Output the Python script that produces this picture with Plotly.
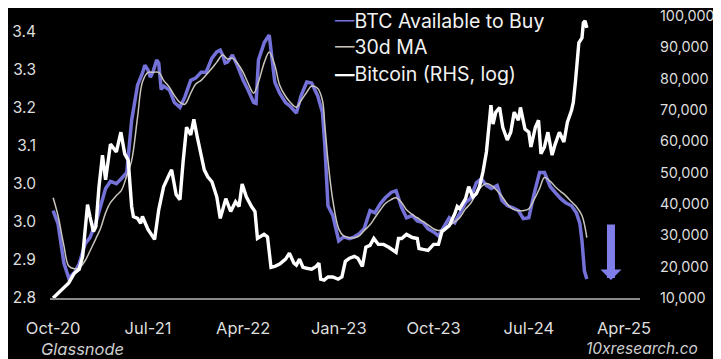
import plotly.graph_objects as go

# ---------------- data ----------------
avail_dates = [
    "2020-10-01", "2020-10-15", "2020-11-01", "2020-11-15", "2020-12-01", "2020-12-15",
    "2021-01-01", "2021-01-15", "2021-02-01", "2021-02-15", "2021-03-01", "2021-03-15",
    "2021-04-01", "2021-04-15", "2021-05-01", "2021-05-15", "2021-06-01", "2021-06-15",
    "2021-06-22", "2021-07-01", "2021-07-08", "2021-07-15", "2021-07-26", "2021-08-01",
    "2021-08-08", "2021-08-15", "2021-09-01",
    "2021-09-15", "2021-10-01", "2021-10-15", "2021-11-01", "2021-11-15", "2021-12-01",
    "2021-12-15", "2022-01-01", "2022-01-15", "2022-01-25", "2022-02-01", "2022-02-08",
    "2022-02-15", "2022-03-01",
    "2022-03-15", "2022-04-01", "2022-04-15", "2022-05-01", "2022-05-08", "2022-05-15",
    "2022-06-01", "2022-06-15", "2022-07-01", "2022-07-15", "2022-08-01", "2022-08-15",
    "2022-09-01",
    "2022-09-15", "2022-10-01", "2022-10-15", "2022-11-01", "2022-11-15", "2022-11-22",
    "2022-12-01", "2022-12-15", "2023-01-01", "2023-01-15", "2023-02-01", "2023-02-15",
    "2023-03-01", "2023-03-15", "2023-04-01", "2023-04-15", "2023-05-01", "2023-05-15",
    "2023-06-01", "2023-06-15", "2023-07-01", "2023-07-15", "2023-08-01", "2023-08-15",
    "2023-09-01", "2023-09-15", "2023-10-01", "2023-10-15", "2023-11-01", "2023-11-15",
    "2023-12-01", "2023-12-15", "2024-01-01", "2024-01-15", "2024-02-01", "2024-02-15",
    "2024-03-01", "2024-03-15", "2024-04-01", "2024-04-15", "2024-05-01", "2024-05-15",
    "2024-06-01", "2024-06-15", "2024-07-01", "2024-07-15", "2024-08-01", "2024-08-15",
    "2024-09-01", "2024-09-15", "2024-10-01", "2024-10-15", "2024-11-01", "2024-11-15",
    "2024-11-25", "2024-12-01", "2024-12-08", "2024-12-15",
]
avail_values = [
    2.997, 2.968, 2.879, 2.845, 2.857, 2.877,
    2.922, 2.936, 2.970, 3.008, 3.047, 3.063,
    3.058, 3.069, 3.083, 3.201, 3.280, 3.307,
    3.325, 3.314, 3.298, 3.309, 3.337, 3.330,
    3.270, 3.278, 3.269,
    3.241, 3.230, 3.253, 3.291, 3.296, 3.309,
    3.309, 3.341, 3.355, 3.359, 3.348, 3.330,
    3.332, 3.348,
    3.325, 3.291, 3.269, 3.241, 3.239, 3.337,
    3.377, 3.393, 3.287, 3.262, 3.241, 3.232,
    3.217,
    3.257, 3.287, 3.285, 3.257, 3.219, 3.144,
    3.008, 2.986, 2.929, 2.938, 2.934, 2.938,
    2.945, 2.956, 2.997, 2.992, 3.013, 3.026,
    3.038, 3.042, 3.004, 2.981, 2.986, 2.974,
    2.970, 2.956, 2.949, 2.940, 2.963, 2.981,
    2.970, 2.992, 3.015, 3.024, 3.060, 3.069,
    3.054, 3.047, 3.054, 3.020, 3.008, 3.004,
    2.997, 2.979, 2.981, 3.031, 3.083, 3.083,
    3.051, 3.038, 3.024, 3.015, 3.008, 2.992,
    2.968, 2.929, 2.861, 2.843,
]

ma_dates = [
    "2020-10-01", "2020-10-15", "2020-11-01", "2020-11-15", "2020-12-01", "2020-12-15",
    "2021-01-01", "2021-01-15", "2021-02-01", "2021-02-15", "2021-03-01", "2021-03-15",
    "2021-04-01", "2021-04-15", "2021-05-01", "2021-05-15", "2021-06-01", "2021-06-15",
    "2021-07-01", "2021-07-15", "2021-08-01", "2021-08-15", "2021-09-01", "2021-09-15",
    "2021-10-01", "2021-10-15", "2021-11-01", "2021-11-15", "2021-12-01", "2021-12-15",
    "2022-01-01", "2022-01-15", "2022-02-01", "2022-02-15", "2022-03-01", "2022-03-15",
    "2022-04-01", "2022-04-15", "2022-05-01", "2022-05-15", "2022-06-01", "2022-06-15",
    "2022-07-01", "2022-07-15", "2022-08-01", "2022-08-15", "2022-09-01", "2022-09-15",
    "2022-10-01", "2022-10-15", "2022-11-01", "2022-11-15", "2022-11-22", "2022-12-01",
    "2022-12-15", "2023-01-01", "2023-01-15", "2023-02-01", "2023-02-15", "2023-03-01",
    "2023-03-15", "2023-04-01", "2023-04-15", "2023-05-01", "2023-05-15", "2023-06-01",
    "2023-06-15", "2023-07-01", "2023-07-15", "2023-08-01", "2023-08-15", "2023-09-01",
    "2023-09-15", "2023-10-01", "2023-10-15", "2023-11-01", "2023-11-15", "2023-12-01",
    "2023-12-15", "2024-01-01", "2024-01-15", "2024-02-01", "2024-02-15", "2024-03-01",
    "2024-03-15", "2024-04-01", "2024-04-15", "2024-05-01", "2024-05-15", "2024-06-01",
    "2024-06-15", "2024-07-01", "2024-07-15", "2024-08-01", "2024-08-15", "2024-09-01",
    "2024-09-15", "2024-10-01", "2024-10-15", "2024-11-01", "2024-11-15", "2024-12-01",
    "2024-12-15",
]
ma_values = [
    3.026, 2.986, 2.918, 2.872, 2.866, 2.868,
    2.884, 2.906, 2.934, 2.958, 2.992, 3.015,
    3.031, 3.042, 3.076, 3.110, 3.208, 3.287,
    3.309, 3.309, 3.309, 3.291, 3.275, 3.257,
    3.241, 3.237, 3.262, 3.282, 3.291, 3.303,
    3.318, 3.332, 3.348, 3.339, 3.341, 3.330,
    3.309, 3.285, 3.262, 3.287, 3.332, 3.355,
    3.325, 3.280, 3.255, 3.241, 3.230, 3.246,
    3.264, 3.278, 3.273, 3.246, 3.189, 3.110,
    3.020, 2.956, 2.940, 2.936, 2.936, 2.940,
    2.952, 2.965, 2.981, 2.999, 3.013, 3.022,
    3.026, 3.015, 2.999, 2.988, 2.981, 2.972,
    2.965, 2.956, 2.952, 2.956, 2.963, 2.972,
    2.981, 3.001, 3.013, 3.035, 3.051, 3.058,
    3.054, 3.042, 3.029, 3.011, 3.001, 2.997,
    2.997, 3.001, 3.020, 3.047, 3.072, 3.063,
    3.051, 3.040, 3.031, 3.017, 3.006, 2.986,
    2.936,
]

btc_dates = [
    "2020-10-01", "2020-10-15", "2020-11-01", "2020-11-15", "2020-12-01", "2020-12-15",
    "2020-12-25", "2021-01-01", "2021-01-08", "2021-01-15", "2021-01-25", "2021-02-01",
    "2021-02-10", "2021-02-20", "2021-03-01", "2021-03-15", "2021-04-01", "2021-04-14",
    "2021-04-25", "2021-05-05", "2021-05-15", "2021-05-20", "2021-06-01", "2021-06-10",
    "2021-06-15", "2021-07-01", "2021-07-15", "2021-07-20", "2021-08-01", "2021-08-15",
    "2021-09-01", "2021-09-07", "2021-09-20", "2021-10-01", "2021-10-10", "2021-10-20",
    "2021-11-01", "2021-11-10", "2021-11-20", "2021-12-01", "2021-12-10", "2021-12-20",
    "2022-01-01", "2022-01-15", "2022-01-25", "2022-02-10", "2022-02-24", "2022-03-10",
    "2022-03-20", "2022-03-29", "2022-04-10", "2022-04-25", "2022-05-05", "2022-05-12",
    "2022-05-31", "2022-06-10", "2022-06-20", "2022-07-01", "2022-07-15", "2022-08-01",
    "2022-08-12", "2022-08-25", "2022-09-01", "2022-09-10", "2022-09-20", "2022-10-01",
    "2022-10-15", "2022-10-28", "2022-11-05", "2022-11-10", "2022-11-20", "2022-12-01",
    "2022-12-15", "2022-12-30", "2023-01-10", "2023-01-20", "2023-02-01", "2023-02-15",
    "2023-02-25", "2023-03-10", "2023-03-20", "2023-04-01", "2023-04-12", "2023-04-25",
    "2023-05-10", "2023-05-25", "2023-06-15", "2023-06-22", "2023-07-01", "2023-07-15",
    "2023-08-01", "2023-08-15", "2023-08-20", "2023-09-01", "2023-09-15", "2023-10-01",
    "2023-10-15", "2023-10-25", "2023-11-01", "2023-11-15", "2023-12-01", "2023-12-08",
    "2023-12-15", "2024-01-01", "2024-01-10", "2024-01-22", "2024-02-01", "2024-02-10",
    "2024-02-20", "2024-03-01", "2024-03-08", "2024-03-14", "2024-03-20", "2024-03-28",
    "2024-04-08", "2024-04-17", "2024-04-30", "2024-05-10", "2024-05-20", "2024-06-01",
    "2024-06-07", "2024-06-20", "2024-07-01", "2024-07-07", "2024-07-20", "2024-07-29",
    "2024-08-05", "2024-08-15", "2024-08-25", "2024-09-06", "2024-09-15", "2024-09-27",
    "2024-10-10", "2024-10-20", "2024-11-01", "2024-11-06", "2024-11-12", "2024-11-18",
    "2024-11-22", "2024-12-01", "2024-12-05", "2024-12-10", "2024-12-15",
]
btc_values = [
    10000, 11600, 13200, 14800, 17900, 19200,
    23300, 31900, 39800, 36000, 31200, 32800,
    45500, 55600, 47700, 59100, 56600, 62900,
    56000, 54000, 39200, 36000, 35400, 33800,
    36000, 31900, 29600, 28700, 38200, 45500,
    49600, 50900, 43000, 41400, 53400, 64500,
    62000, 67000, 61300, 56000, 50900, 48700,
    47100, 42300, 35400, 41700, 37600, 40700,
    39200, 46400, 42300, 39200, 37600, 29000,
    30300, 29500, 19800, 20100, 20800, 22400,
    24300, 21100, 20500, 22400, 19800, 19500,
    19200, 20100, 21100, 16000, 15700, 16700,
    16700, 16000, 16700, 21700, 22700, 23300,
    22700, 20100, 26200, 26800, 29000, 27100,
    27100, 26200, 24600, 29000, 29000, 30300,
    29300, 29000, 25800, 25500, 25200, 27100,
    27100, 31200, 31900, 33100, 36900, 39200,
    38500, 41700, 45500, 42300, 43300, 45500,
    50200, 56600, 64500, 71500, 65500, 69300,
    70800, 64500, 60400, 62900, 69300, 66700,
    70800, 63900, 62900, 58200, 64500, 66700,
    56000, 58200, 62900, 55600, 59100, 62900,
    59800, 66100, 69900, 72400, 78800, 85100,
    91400, 93000, 97800, 98400, 96200,
]

x_tickvals = ["2020-10-01", "2021-07-01", "2022-04-01", "2023-01-01",
              "2023-10-01", "2024-07-01", "2025-04-01"]
x_ticktext = ["Oct-20", "Jul-21", "Apr-22", "Jan-23", "Oct-23", "Jul-24", "Apr-25"]
left_tickvals = [2.8, 2.8857, 2.9714, 3.0571, 3.1429, 3.2286, 3.3143, 3.4]
left_ticktext = ["2.8", "2.9", "3.0", "3.0", "3.1", "3.2", "3.3", "3.4"]
right_tickvals = [10000, 20000, 30000, 40000, 50000, 60000, 70000, 80000, 90000, 100000]

# ---------------- styling ----------------
PURPLE = "#7471d8"
MA_GREY = "#c9c5bd"
WHITE = "#ffffff"
TXT = "#dedede"
FONT = "Inter, Lato, 'Open Sans', sans-serif"

fig = go.Figure()
fig.add_trace(go.Scatter(x=avail_dates, y=avail_values, name="BTC Available to Buy",
                         mode="lines", line=dict(color=PURPLE, width=3.5), yaxis="y"))
fig.add_trace(go.Scatter(x=ma_dates, y=ma_values, name="30d MA",
                         mode="lines", line=dict(color=MA_GREY, width=1.5, shape="spline"),
                         yaxis="y"))
fig.add_trace(go.Scatter(x=btc_dates, y=btc_values, name="Bitcoin (RHS, log)",
                         mode="lines", line=dict(color=WHITE, width=3.4), yaxis="y2"))

legend_items = [("BTC Available to Buy", PURPLE, False),
                ("30d MA", MA_GREY, False),
                ("Bitcoin (RHS, log)", WHITE, True)]
legend_y = [0.962, 0.870, 0.777]
annotations = []
for (label, col, bold), yy in zip(legend_items, legend_y):
    dash = "<b>—</b>" if bold else "—"
    annotations.append(dict(
        xref="paper", yref="paper", x=0.481, y=yy, xanchor="left", yanchor="middle",
        text=f'<span style="color:{col}">{dash}</span>{label}', showarrow=False,
        borderpad=0, font=dict(family=FONT, size=19.5, color="#f2f2f2")))

annotations.append(dict(xref="paper", yref="paper", x=-0.019, y=-0.177,
                        xanchor="left", yanchor="middle", text="<i>Glassnode</i>",
                        showarrow=False, font=dict(family=FONT, size=16.5, color="#cfcfcf")))
annotations.append(dict(xref="paper", yref="paper", x=1.1017, y=-0.177,
                        xanchor="right", yanchor="middle", text="<i>10xresearch.co</i>",
                        showarrow=False, font=dict(family=FONT, size=15.5, color="#cfcfcf")))
# down arrow
annotations.append(dict(xref="paper", yref="paper", x=0.9508, y=0.0625, text="",
                        showarrow=True, ax=0, ay=-57, arrowhead=1, arrowsize=0.44,
                        arrowwidth=8, arrowcolor="#807ee8"))

fig.update_layout(
    width=713, height=351,
    margin=dict(l=42, r=81, t=2, b=61),
    paper_bgcolor="#000000", plot_bgcolor="#000000",
    showlegend=False,
    font=dict(family=FONT, size=15, color=TXT),
    xaxis=dict(type="date", range=["2020-09-22", "2025-05-17"],
               tickvals=x_tickvals, ticktext=x_ticktext, automargin=False,
               ticklabeloverflow="allow",
               showgrid=False, zeroline=False, showline=True,
               linecolor="#8a8a8a", linewidth=1.5, ticks="",
               ticklabelstandoff=14, tickfont=dict(size=16.5, color=TXT)),
    yaxis=dict(range=[2.8, 3.4496], tickvals=left_tickvals, ticktext=left_ticktext,
               automargin=False, ticklabeloverflow="allow",
               showgrid=False, zeroline=False, showline=False, ticks="",
               ticklabelstandoff=13, tickfont=dict(size=15.5, color=TXT)),
    yaxis2=dict(range=[10000, 101900], tickvals=right_tickvals, tickformat=",d",
                overlaying="y", side="right", automargin=False,
                ticklabeloverflow="allow",
                showgrid=False, zeroline=False, showline=False, ticks="",
                ticklabelstandoff=19, tickfont=dict(size=14.4, color=TXT)),
    annotations=annotations,
)

fig.write_html("out.html")
